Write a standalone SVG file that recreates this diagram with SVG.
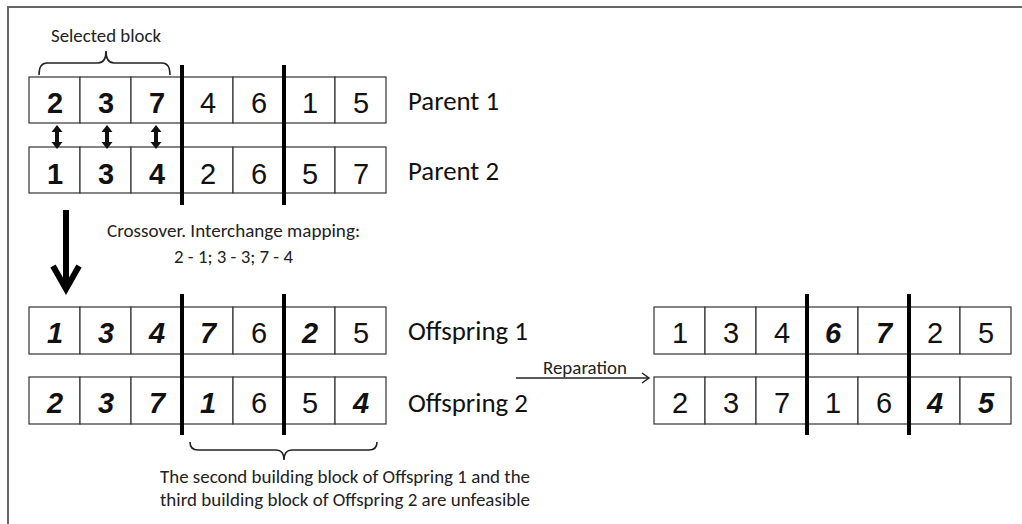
<svg xmlns="http://www.w3.org/2000/svg" width="1022" height="524" viewBox="0 0 1022 524">
<style>
.cell{fill:#fff;stroke:#333;stroke-width:1.2}
.d{font-family:"Liberation Sans",Arial,sans-serif;font-size:29px;fill:#111;text-anchor:middle}
.b{font-weight:bold}
.bi{font-weight:bold;font-style:italic}
.lab{font-family:Carlito,"Liberation Sans",Arial,sans-serif;font-size:26px;fill:#111}
.t{font-family:Carlito,"Liberation Sans",Arial,sans-serif;font-size:18px;fill:#222}
.div{stroke:#000;stroke-width:4}
.brace{fill:none;stroke:#222;stroke-width:1.6}
</style>
<rect width="1022" height="524" fill="#fff"/>
<path d="M8,524 L8,7 L1022,7" fill="none" stroke="#666" stroke-width="2"/>

<g id="selected-block">
<path class="brace" d="M39,75 Q39,63 47,63 L98,63 Q106,63 106,51 Q106,63 114,63 L162,63 Q170,63 170,75"/>
<text class="t" x="106" y="42" text-anchor="middle" font-size="17" textLength="110" lengthAdjust="spacingAndGlyphs">Selected block</text>
</g>

<g id="parent1">
<rect class="cell" x="29" y="77" width="51" height="46"/><rect class="cell" x="80" y="77" width="51" height="46"/><rect class="cell" x="131" y="77" width="51" height="46"/><rect class="cell" x="182" y="77" width="51" height="46"/><rect class="cell" x="233" y="77" width="51" height="46"/><rect class="cell" x="284" y="77" width="51" height="46"/><rect class="cell" x="335" y="77" width="51" height="46"/>
<text class="d b" x="55" y="113">2</text><text class="d b" x="106" y="113">3</text><text class="d b" x="157" y="113">7</text><text class="d" x="208" y="113">4</text><text class="d" x="259" y="113">6</text><text class="d" x="310" y="113">1</text><text class="d" x="361" y="113">5</text>
<text class="lab" x="408" y="110" textLength="91" lengthAdjust="spacingAndGlyphs">Parent 1</text>
</g>

<g id="parent2">
<rect class="cell" x="29" y="147" width="51" height="46"/><rect class="cell" x="80" y="147" width="51" height="46"/><rect class="cell" x="131" y="147" width="51" height="46"/><rect class="cell" x="182" y="147" width="51" height="46"/><rect class="cell" x="233" y="147" width="51" height="46"/><rect class="cell" x="284" y="147" width="51" height="46"/><rect class="cell" x="335" y="147" width="51" height="46"/>
<text class="d b" x="55" y="184">1</text><text class="d b" x="106" y="184">3</text><text class="d b" x="157" y="184">4</text><text class="d" x="208" y="184">2</text><text class="d" x="259" y="184">6</text><text class="d" x="310" y="184">5</text><text class="d" x="361" y="184">7</text>
<text class="lab" x="408" y="180" textLength="91" lengthAdjust="spacingAndGlyphs">Parent 2</text>
</g>

<g id="crossover-label">
<text class="t" x="107" y="237" textLength="253" lengthAdjust="spacingAndGlyphs">Crossover. Interchange mapping:</text>
<text class="t" x="174" y="263" textLength="119" lengthAdjust="spacingAndGlyphs">2 - 1; 3 - 3; 7 - 4</text>
</g>

<g id="offspring1">
<rect class="cell" x="29" y="307" width="51" height="47"/><rect class="cell" x="80" y="307" width="51" height="47"/><rect class="cell" x="131" y="307" width="51" height="47"/><rect class="cell" x="182" y="307" width="51" height="47"/><rect class="cell" x="233" y="307" width="51" height="47"/><rect class="cell" x="284" y="307" width="51" height="47"/><rect class="cell" x="335" y="307" width="51" height="47"/>
<text class="d bi" x="55" y="343">1</text><text class="d bi" x="106" y="343">3</text><text class="d bi" x="157" y="343">4</text><text class="d bi" x="208" y="343">7</text><text class="d" x="259" y="343">6</text><text class="d bi" x="310" y="343">2</text><text class="d" x="361" y="343">5</text>
<text class="lab" x="408" y="340" textLength="120" lengthAdjust="spacingAndGlyphs">Offspring 1</text>
</g>

<g id="offspring2">
<rect class="cell" x="29" y="377" width="51" height="47"/><rect class="cell" x="80" y="377" width="51" height="47"/><rect class="cell" x="131" y="377" width="51" height="47"/><rect class="cell" x="182" y="377" width="51" height="47"/><rect class="cell" x="233" y="377" width="51" height="47"/><rect class="cell" x="284" y="377" width="51" height="47"/><rect class="cell" x="335" y="377" width="51" height="47"/>
<text class="d bi" x="55" y="413">2</text><text class="d bi" x="106" y="413">3</text><text class="d bi" x="157" y="413">7</text><text class="d bi" x="208" y="413">1</text><text class="d" x="259" y="413">6</text><text class="d" x="310" y="413">5</text><text class="d bi" x="361" y="413">4</text>
<text class="lab" x="408" y="412" textLength="120" lengthAdjust="spacingAndGlyphs">Offspring 2</text>
</g>

<g id="repaired1">
<rect class="cell" x="654" y="307" width="51" height="47"/><rect class="cell" x="705" y="307" width="51" height="47"/><rect class="cell" x="756" y="307" width="51" height="47"/><rect class="cell" x="807" y="307" width="51" height="47"/><rect class="cell" x="858" y="307" width="51" height="47"/><rect class="cell" x="909" y="307" width="51" height="47"/><rect class="cell" x="960" y="307" width="51" height="47"/>
<text class="d" x="680" y="343">1</text><text class="d" x="731" y="343">3</text><text class="d" x="782" y="343">4</text><text class="d bi" x="833" y="343">6</text><text class="d bi" x="884" y="343">7</text><text class="d" x="935" y="343">2</text><text class="d" x="986" y="343">5</text>
</g>

<g id="repaired2">
<rect class="cell" x="654" y="377" width="51" height="47"/><rect class="cell" x="705" y="377" width="51" height="47"/><rect class="cell" x="756" y="377" width="51" height="47"/><rect class="cell" x="807" y="377" width="51" height="47"/><rect class="cell" x="858" y="377" width="51" height="47"/><rect class="cell" x="909" y="377" width="51" height="47"/><rect class="cell" x="960" y="377" width="51" height="47"/>
<text class="d" x="680" y="413">2</text><text class="d" x="731" y="413">3</text><text class="d" x="782" y="413">7</text><text class="d" x="833" y="413">1</text><text class="d" x="884" y="413">6</text><text class="d bi" x="935" y="413">4</text><text class="d bi" x="986" y="413">5</text>
</g>

<g id="dividers">
<line class="div" x1="182" y1="65" x2="182" y2="205"/>
<line class="div" x1="284" y1="65" x2="284" y2="205"/>
<line class="div" x1="182" y1="294" x2="182" y2="435"/>
<line class="div" x1="284" y1="294" x2="284" y2="435"/>
<line class="div" x1="807" y1="294" x2="807" y2="435"/>
<line class="div" x1="909" y1="294" x2="909" y2="435"/>
</g>

<g id="unfeasible-note">
<path class="brace" d="M190,442 Q190,450 198,450 L276,450 Q284,450 284,460 Q284,450 292,450 L369,450 Q377,450 377,442"/>
<text class="t" x="160" y="483" textLength="370" lengthAdjust="spacingAndGlyphs">The second building block of Offspring 1 and the</text>
<text class="t" x="160" y="506" textLength="370" lengthAdjust="spacingAndGlyphs">third building block of Offspring 2 are unfeasible</text>
</g>

<g id="connectors">
<g fill="#111">
<rect x="55" y="130" width="4" height="14"/><path d="M51.5,132 L57,125 L62.5,132 Z M51.5,142 L57,149 L62.5,142 Z"/>
<rect x="105" y="130" width="4" height="14"/><path d="M101.5,132 L107,125 L112.5,132 Z M101.5,142 L107,149 L112.5,142 Z"/>
<rect x="154" y="130" width="4" height="14"/><path d="M150.5,132 L156,125 L161.5,132 Z M150.5,142 L156,149 L161.5,142 Z"/>
</g>
<line x1="66" y1="210" x2="66" y2="288" stroke="#000" stroke-width="6"/>
<polyline points="53,266 66,289 79,266" fill="none" stroke="#000" stroke-width="6" stroke-linejoin="miter"/>
<line x1="516" y1="378" x2="649" y2="378" stroke="#222" stroke-width="1.5"/>
<polyline points="642,373 649,378 642,383" fill="none" stroke="#222" stroke-width="1.5"/>
<text class="t" x="543" y="374" font-size="15" textLength="84" lengthAdjust="spacingAndGlyphs">Reparation</text>
</g>
</svg>
